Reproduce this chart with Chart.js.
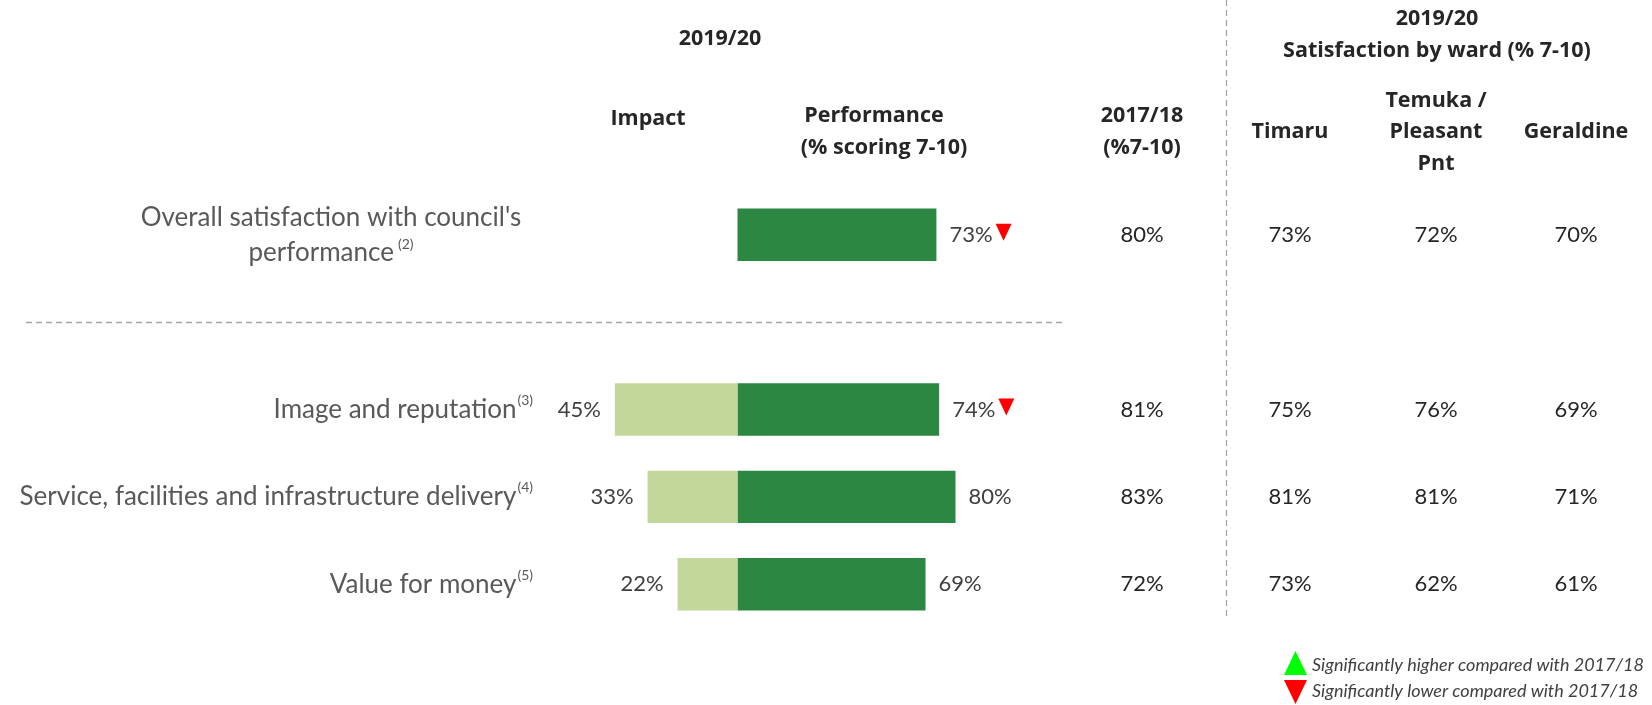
<!DOCTYPE html>
<html>
<head>
<meta charset="utf-8">
<script src="https://cdn.jsdelivr.net/npm/chart.js@4/dist/chart.umd.min.js"></script>
<style>
  html, body { margin: 0; padding: 0; background: #ffffff; }
  #wrap { width: 1652px; height: 705px; position: relative; }
  canvas { display: block; }
</style>
</head>
<body>
<div id="wrap"><canvas id="chart" width="1652" height="705"></canvas></div>
<script>
// Rows of the driver table; the empty row holds the separator line.
const categories = [
  ["Overall satisfaction with council's", "performance"],
  "",
  "Image and reputation",
  "Service, facilities and infrastructure delivery",
  "Value for money"
];
const footnotes = ["(2)", "", "(3)", "(4)", "(5)"];

// 2019/20 impact and performance (% scoring 7-10)
const impact = [null, null, 45, 33, 22];
const performance = [73, null, 74, 80, 69];
// Significance of change vs 2017/18: "up", "down" or null
const change = ["down", null, "down", null, null];

// 2017/18 result (% 7-10)
const previous = [80, null, 81, 83, 72];

// 2019/20 satisfaction by ward (% 7-10)
const wardNames = [["Timaru"], ["Temuka /", "Pleasant", "Pnt"], ["Geraldine"]];
const timaru = [73, null, 75, 81, 73];
const temuka = [72, null, 76, 81, 62];
const geraldine = [70, null, 69, 71, 61];
const wards = [timaru, temuka, geraldine];

const DARK_GREEN = '#2b8742';
const LIGHT_GREEN = '#c4d79b';
const LABEL_FONT = 'Lato, "Open Sans", sans-serif';
const HEAD_FONT = '"Open Sans", Lato, sans-serif';

function triangle(ctx, x, yTop, w, h, dir, color) {
  ctx.save();
  ctx.fillStyle = color;
  ctx.beginPath();
  if (dir === 'down') {
    ctx.moveTo(x, yTop);
    ctx.lineTo(x + w, yTop);
    ctx.lineTo(x + w / 2, yTop + h);
  } else {
    ctx.moveTo(x + w / 2, yTop);
    ctx.lineTo(x + w, yTop + h);
    ctx.lineTo(x, yTop + h);
  }
  ctx.closePath();
  ctx.fill();
  ctx.restore();
}

const tablePlugin = {
  id: 'driverTable',
  afterDraw(chart) {
    const ctx = chart.ctx;
    const xs = chart.scales.x;
    const ys = chart.scales.y;
    ctx.save();

    // Dashed separators
    ctx.strokeStyle = '#a6a6a6';
    ctx.lineWidth = 1.3;
    ctx.setLineDash([6, 4]);
    const sepY = Math.round(ys.getPixelForValue(1)) + 0.5;
    ctx.beginPath();
    ctx.moveTo(26, sepY);
    ctx.lineTo(1066, sepY);
    ctx.stroke();
    ctx.beginPath();
    ctx.moveTo(1226.5, 0);
    ctx.lineTo(1226.5, 616);
    ctx.stroke();
    ctx.setLineDash([]);

    // Column headers
    ctx.fillStyle = '#262626';
    ctx.font = 'bold 21.5px ' + HEAD_FONT;
    ctx.textAlign = 'center';
    ctx.textBaseline = 'middle';
    ctx.fillText('2019/20', 720, 39);
    ctx.fillText('Impact', 648, 119);
    ctx.fillText('Performance', 874, 116);
    ctx.fillText('(% scoring 7-10)', 884, 148);
    ctx.fillText('2017/18', 1142, 116);
    ctx.fillText('(%7-10)', 1142, 148);
    ctx.fillText('2019/20', 1437, 19);
    ctx.fillText('Satisfaction by ward (% 7-10)', 1437, 51);
    const wardX = [1290, 1436, 1576];
    wardNames.forEach((lines, k) => {
      const lh = 31.6;
      const y0 = 132 - (lines.length - 1) * lh / 2;
      lines.forEach((t, j) => ctx.fillText(t, wardX[k], y0 + j * lh));
    });

    categories.forEach((label, i) => {
      if (label === '') return;
      const y = ys.getPixelForValue(i);

      // Row label with footnote marker
      ctx.fillStyle = '#595959';
      ctx.textBaseline = 'middle';
      if (Array.isArray(label)) {
        const cx = 331;
        const lh = 35;
        ctx.textAlign = 'center';
        ctx.font = '26px ' + LABEL_FONT;
        ctx.fillText(label[0], cx, y - lh / 2);
        ctx.font = '14px ' + LABEL_FONT;
        const sw = ctx.measureText(footnotes[i]).width;
        ctx.font = '26px ' + LABEL_FONT;
        const lw = ctx.measureText(label[1]).width;
        const left = cx - (lw + 4 + sw) / 2;
        ctx.textAlign = 'left';
        ctx.fillText(label[1], left, y + lh / 2);
        ctx.font = '14px ' + LABEL_FONT;
        ctx.fillText(footnotes[i], left + lw + 4, y + lh / 2 - 8);
      } else {
        const right = 533;
        ctx.font = '14px ' + LABEL_FONT;
        const sw = ctx.measureText(footnotes[i]).width;
        ctx.textAlign = 'right';
        ctx.fillText(footnotes[i], right, y - 9);
        ctx.font = '26px ' + LABEL_FONT;
        ctx.fillText(label, right - sw - 1, y);
      }

      // Value labels next to the bars
      ctx.fillStyle = '#404040';
      ctx.font = '22px ' + LABEL_FONT;
      if (impact[i] != null) {
        ctx.textAlign = 'right';
        ctx.fillText(impact[i] + '%', xs.getPixelForValue(-impact[i]) - 14, y);
      }
      if (performance[i] != null) {
        ctx.textAlign = 'left';
        const px = xs.getPixelForValue(performance[i]) + 13;
        const t = performance[i] + '%';
        ctx.fillText(t, px, y);
        if (change[i]) {
          const tw = ctx.measureText(t).width;
          triangle(ctx, px + tw + 3, y - 11, 16, 17, change[i],
                   change[i] === 'down' ? '#ff0000' : '#00ff00');
        }
      }

      // 2017/18 and ward columns
      ctx.fillStyle = '#262626';
      ctx.textAlign = 'center';
      if (previous[i] != null) ctx.fillText(previous[i] + '%', 1142, y);
      wards.forEach((arr, k) => {
        if (arr[i] != null) ctx.fillText(arr[i] + '%', wardX[k], y);
      });
    });

    // Significance key
    triangle(ctx, 1284, 651, 23, 24, 'up', '#00ff00');
    triangle(ctx, 1284, 680, 23, 24, 'down', '#ff0000');
    ctx.fillStyle = '#404040';
    ctx.font = 'italic 18px ' + LABEL_FONT;
    ctx.textAlign = 'left';
    ctx.textBaseline = 'middle';
    ctx.fillText('Significantly higher compared with 2017/18', 1312, 665);
    ctx.fillText('Significantly lower compared with 2017/18', 1312, 691);

    ctx.restore();
  }
};

new Chart(document.getElementById('chart'), {
  type: 'bar',
  data: {
    labels: categories,
    datasets: [
      {
        label: 'Impact',
        data: impact.map(v => v == null ? null : -v),
        backgroundColor: LIGHT_GREEN,
        borderWidth: 0
      },
      {
        label: 'Performance (% scoring 7-10)',
        data: performance,
        backgroundColor: DARK_GREEN,
        borderWidth: 0
      }
    ]
  },
  options: {
    indexAxis: 'y',
    responsive: false,
    animation: false,
    events: [],
    layout: { padding: { left: 465, right: 642, top: 191, bottom: 77 } },
    datasets: { bar: { barPercentage: 0.6, categoryPercentage: 1 } },
    scales: {
      x: { stacked: true, min: -100, max: 100, display: false },
      y: { stacked: true, display: false }
    },
    plugins: {
      legend: { display: false },
      tooltip: { enabled: false },
      title: { display: false }
    }
  },
  plugins: [tablePlugin]
});
</script>
</body>
</html>
